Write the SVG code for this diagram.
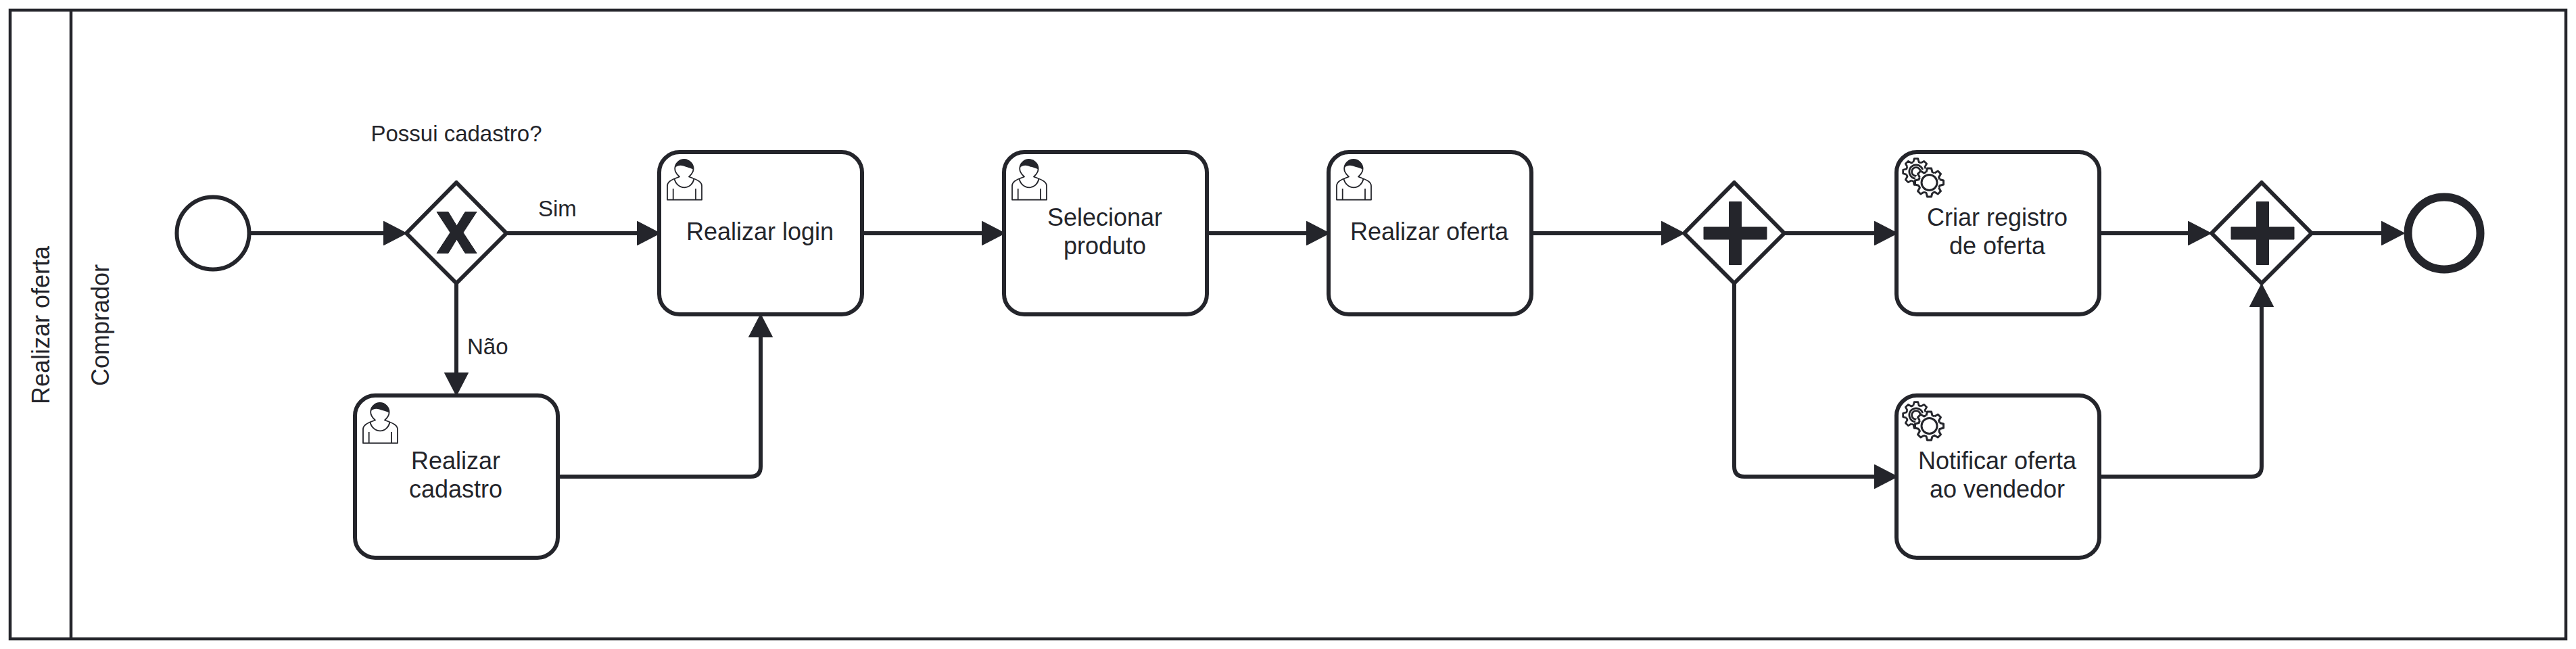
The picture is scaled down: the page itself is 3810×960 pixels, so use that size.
<svg xmlns="http://www.w3.org/2000/svg" xmlns:xlink="http://www.w3.org/1999/xlink" width="3810" height="960" viewBox="0 0 3810 960">
<style>
text{font-family:"Liberation Sans",Arial,sans-serif;fill:#24252b}
.t{font-size:36px;text-anchor:middle}
.l{font-size:33px}
.task{fill:#fff;stroke:#24252b;stroke-width:6}
.gw{fill:#fff;stroke:#24252b;stroke-width:6;stroke-linejoin:round}
.mark{fill:#24252b;stroke:#24252b;stroke-width:1;stroke-linejoin:round}
.edge{fill:none;stroke:#24252b;stroke-width:6;marker-end:url(#arrow)}
.u{fill:#fff;stroke:#24252b;stroke-width:1.8;stroke-linejoin:round}
.g{fill:none;stroke:#24252b;stroke-width:3;stroke-linejoin:round}
</style>
<defs>
<marker id="arrow" markerUnits="userSpaceOnUse" markerWidth="36" markerHeight="37" viewBox="-1 -1 34 35" refX="8" refY="16.5" orient="auto"><path d="M0,0L32,16.5L0,33Z" fill="#24252b" stroke="#24252b" stroke-width="1" stroke-linejoin="round"/></marker>
<g id="user">
<path class="u" d="M12,70.5V50C12,44 17,41 30,36.5C26,33 23.2,29.5 23.2,24.7A13.6,13.6 0 0 1 50.6,24.7C50.6,29.5 48,33 44,36.5C57,41 63,44 63,50V70.5Z"/>
<path class="u" style="fill:none" d="M22.3,39C24,47 30,52.3 37.3,52.3C44.5,52.3 50,47 51.7,39M20.7,54V70.5M54,54V70.5"/>
<path fill="#24252b" d="M23.2,23.5C23.2,16 29,11 37,11C45,11 50.8,17 50.8,25.7C46,23 41,22.5 36,20.5C31,19 26,20 23.2,23.5Z"/>
</g>
<path id="tooth" d="M-4.5,-15.4L-3,-21H3L4.5,-15.4A16,16 0 0 1 7.68,-14.04"/>
<g id="gearteeth" class="g">
<use xlink:href="#tooth" href="#tooth"/>
<use xlink:href="#tooth" href="#tooth" transform="rotate(45)"/>
<use xlink:href="#tooth" href="#tooth" transform="rotate(90)"/>
<use xlink:href="#tooth" href="#tooth" transform="rotate(135)"/>
<use xlink:href="#tooth" href="#tooth" transform="rotate(180)"/>
<use xlink:href="#tooth" href="#tooth" transform="rotate(225)"/>
<use xlink:href="#tooth" href="#tooth" transform="rotate(270)"/>
<use xlink:href="#tooth" href="#tooth" transform="rotate(315)"/>
</g>
<g id="gears">
<g transform="translate(29,29) scale(.92)"><use xlink:href="#gearteeth" href="#gearteeth"/><circle class="g" r="11"/><circle class="g" r="7"/></g>
<circle cx="48.5" cy="45" r="21.5" fill="#fff"/>
<g transform="translate(48.5,45)"><use xlink:href="#gearteeth" href="#gearteeth"/><circle class="g" r="11.5"/></g>
</g>
</defs>
<rect width="3810" height="960" fill="#fff"/>
<g id="pool" fill="none" stroke="#24252b" stroke-width="4.5">
<rect x="15" y="15" width="3780" height="930"/>
<line x1="105" y1="15" x2="105" y2="945"/>
</g>
<text id="pool-label" class="t" transform="translate(72.5,481) rotate(-90)">Realizar oferta</text>
<text id="lane-label" class="t" transform="translate(160.5,481) rotate(-90)">Comprador</text>
<g id="connectors">
<path class="edge" d="M371,345H576"/>
<path class="edge" d="M750,345H951"/>
<path class="edge" d="M675,420V560"/>
<path class="edge" d="M825,705H1110Q1125,705 1125,690V490"/>
<path class="edge" d="M1275,345H1461"/>
<path class="edge" d="M1785,345H1941"/>
<path class="edge" d="M2265,345H2466"/>
<path class="edge" d="M2640,345H2781"/>
<path class="edge" d="M2565,420V690Q2565,705 2580,705H2781"/>
<path class="edge" d="M3105,345H3245"/>
<path class="edge" d="M3105,705H3330Q3345,705 3345,690V445"/>
<path class="edge" d="M3420,345H3531"/>
</g>
<g id="start"><circle cx="315" cy="345" r="53.5" fill="#fff" stroke="#24252b" stroke-width="6"/></g>
<g id="gateway-cadastro">
<polygon class="gw" points="675,270 749,345 675,419 601,345"/>
<polygon class="mark" points="646,313.5 663,313.5 675.5,334 688,313.5 705,313.5 685,344 705,374.5 688,374.5 675.5,354 663,374.5 646,374.5 666,344"/>
<text class="l" x="675" y="209" text-anchor="middle">Possui cadastro?</text>
</g>
<text id="label-sim" class="l" x="796" y="320">Sim</text>
<text id="label-nao" class="l" x="691" y="524">Não</text>
<g id="task-cadastro"><rect class="task" x="525" y="585" width="300" height="240" rx="30"/><use xlink:href="#user" href="#user" x="525" y="585"/><text class="t"><tspan x="674" y="693.5">Realizar</tspan><tspan x="674" y="735.5">cadastro</tspan></text></g>
<g id="task-login"><rect class="task" x="975" y="225" width="300" height="240" rx="30"/><use xlink:href="#user" href="#user" x="975" y="225"/><text class="t" x="1124" y="355">Realizar login</text></g>
<g id="task-selecionar"><rect class="task" x="1485" y="225" width="300" height="240" rx="30"/><use xlink:href="#user" href="#user" x="1485" y="225"/><text class="t"><tspan x="1634" y="333.5">Selecionar</tspan><tspan x="1634" y="375.5">produto</tspan></text></g>
<g id="task-oferta"><rect class="task" x="1965" y="225" width="300" height="240" rx="30"/><use xlink:href="#user" href="#user" x="1965" y="225"/><text class="t" x="2114" y="355">Realizar oferta</text></g>
<g id="gateway-split">
<polygon class="gw" points="2565,270 2639,345 2565,419 2491,345"/>
<path class="mark" d="M2557.5,298.5H2575.5V336H2613V354H2575.5V391.5H2557.5V354H2520V336H2557.5Z"/>
</g>
<g id="task-registro"><rect class="task" x="2805" y="225" width="300" height="240" rx="30"/><use xlink:href="#gears" href="#gears" x="2805" y="225"/><text class="t"><tspan x="2954" y="333.5">Criar registro</tspan><tspan x="2954" y="375.5">de oferta</tspan></text></g>
<g id="task-notificar"><rect class="task" x="2805" y="585" width="300" height="240" rx="30"/><use xlink:href="#gears" href="#gears" x="2805" y="585"/><text class="t"><tspan x="2954" y="693.5">Notificar oferta</tspan><tspan x="2954" y="735.5">ao vendedor</tspan></text></g>
<g id="gateway-join">
<polygon class="gw" points="3345,270 3419,345 3345,419 3271,345"/>
<path class="mark" d="M3337.5,298.5H3355.5V336H3393V354H3355.5V391.5H3337.5V354H3300V336H3337.5Z"/>
</g>
<g id="end"><circle cx="3615" cy="345" r="53.5" fill="#fff" stroke="#24252b" stroke-width="12"/></g>
</svg>
